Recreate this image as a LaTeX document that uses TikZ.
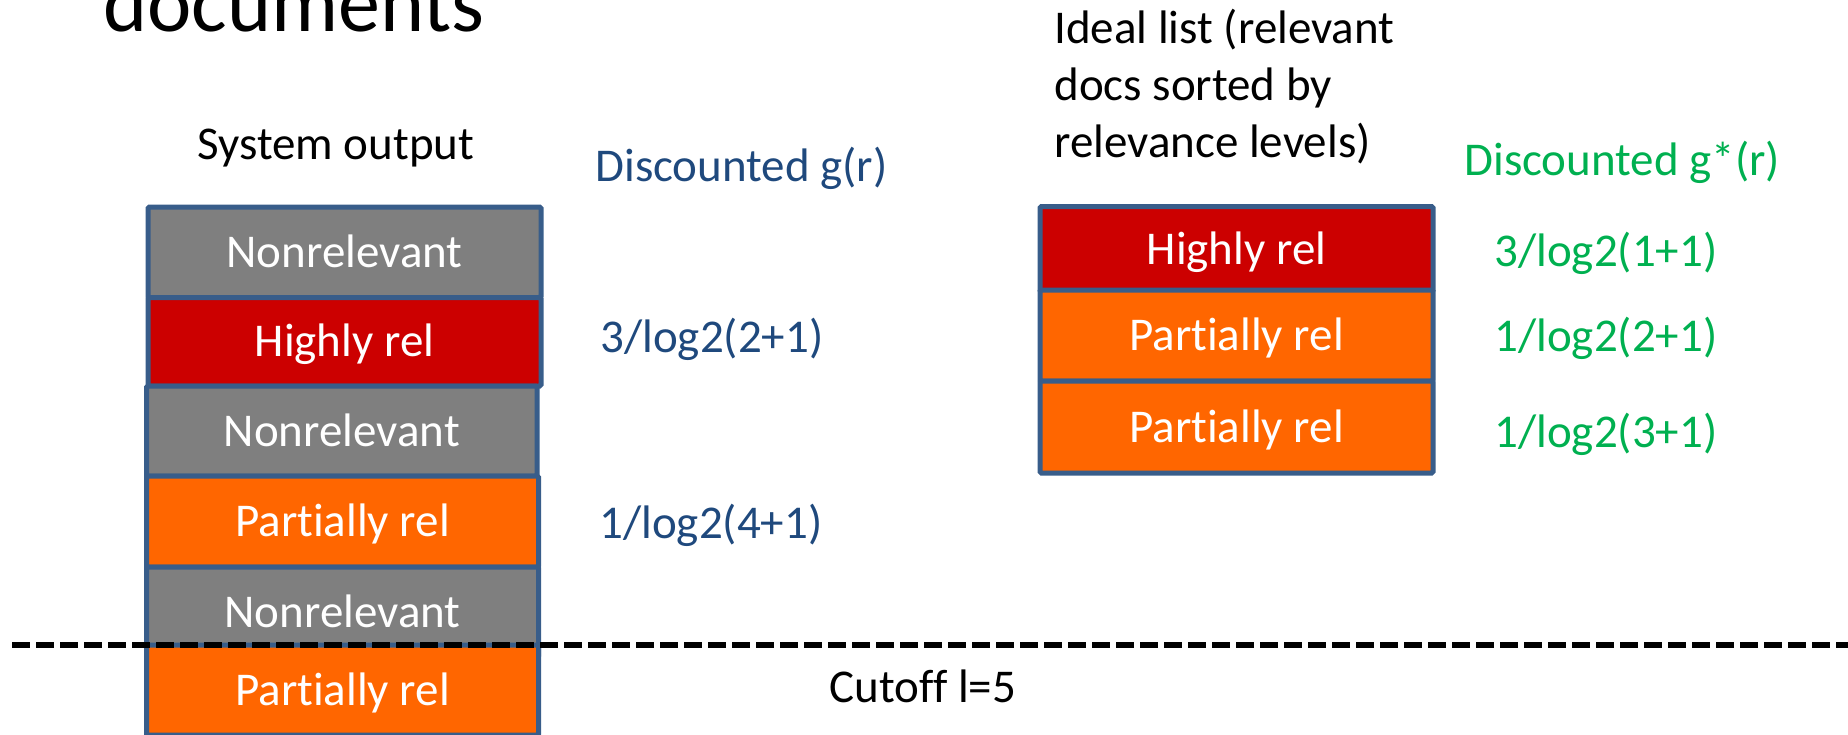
\documentclass[tikz,border=0pt]{standalone}
\usepackage{fontspec}
\setmainfont{Carlito}[Ligatures=NoCommon]
\usepackage{xcolor}
\usepackage{tikz}
\usetikzlibrary{positioning}
\definecolor{edge}{HTML}{385D8A}
\definecolor{nongray}{HTML}{7F7F7F}
\definecolor{highred}{HTML}{CC0000}
\definecolor{partorange}{HTML}{FF6600}
\definecolor{gblue}{HTML}{1F497D}
\definecolor{ggreen}{HTML}{00B050}

\begin{document}
\begin{tikzpicture}[x=0.5pt, y=-0.5pt,
  lbl/.style={font=\fontsize{23.5}{28.5}\selectfont, inner sep=0pt, anchor=base west},
  doc/.style={draw=edge, line width=2.5pt, rounded corners=0.75pt, inner sep=0pt, text=white,
    font=\fontsize{23.5}{28.5}\selectfont, text height=15.1pt, text depth=0pt,
    minimum width=196.5pt, minimum height=45pt},
  non/.style={doc, fill=nongray},
  high/.style={doc, fill=highred},
  part/.style={doc, fill=partorange}]
  \useasboundingbox (0,0) rectangle (1848,734);
  \node[lbl, font=\fontsize{42}{50}\selectfont] (title) at (103,31) {documents};
  \node[lbl] (sys) at (197,159) {System output};
  \node[non, minimum height=45.25pt] (s1) at (344.5,252.25) {Nonrelevant};
  \node[high, minimum height=44.25pt] (s2) at (344.5,341.75) {Highly rel};
  \node[non, minimum width=195.25pt] (s3) at (341.75,431) {Nonrelevant};
  \node[part, minimum width=196pt, minimum height=45.5pt] (s4) at (342.5,521.5) {Partially rel};
  \node[non, minimum width=196pt] (s5) at (342.5,612) {Nonrelevant};
  \node[part, minimum width=196pt] (s6) at (342.5,690) {Partially rel};
  \node[lbl, text=gblue] (gr) at (595,181) {Discounted g(r)};
  \node[lbl, text=gblue] (g2) at (600,352) {3/log2(2+1)};
  \node[lbl, text=gblue] (g4) at (599,538) {1/log2(4+1)};
  \node[lbl, align=left] (ideal) at (1054,157) {Ideal list (relevant\\docs sorted by\\relevance levels)};
  \node[lbl, text=ggreen] (gsr) at (1464,175) {Discounted g*(r)};
  \node[high, minimum height=42.5pt] (i1) at (1236.5,249) {Highly rel};
  \node[part, minimum height=45.5pt] (i2) at (1236.5,335.5) {Partially rel};
  \node[part, minimum height=46pt] (i3) at (1236.5,427) {Partially rel};
  \node[lbl, text=ggreen] (gs1) at (1494,266) {3/log2(1+1)};
  \node[lbl, text=ggreen] (gs2) at (1494,351) {1/log2(2+1)};
  \node[lbl, text=ggreen] (gs3) at (1494,447) {1/log2(3+1)};
  \coordinate (cutl) at (12,645);
  \coordinate (cutr) at (1848,645);
  \draw[line width=3pt, dash pattern=on 9pt off 3pt] (cutl) -- (cutr);
  \node[lbl] (cut) at (829,702) {Cutoff l=5};
\end{tikzpicture}
\end{document}
